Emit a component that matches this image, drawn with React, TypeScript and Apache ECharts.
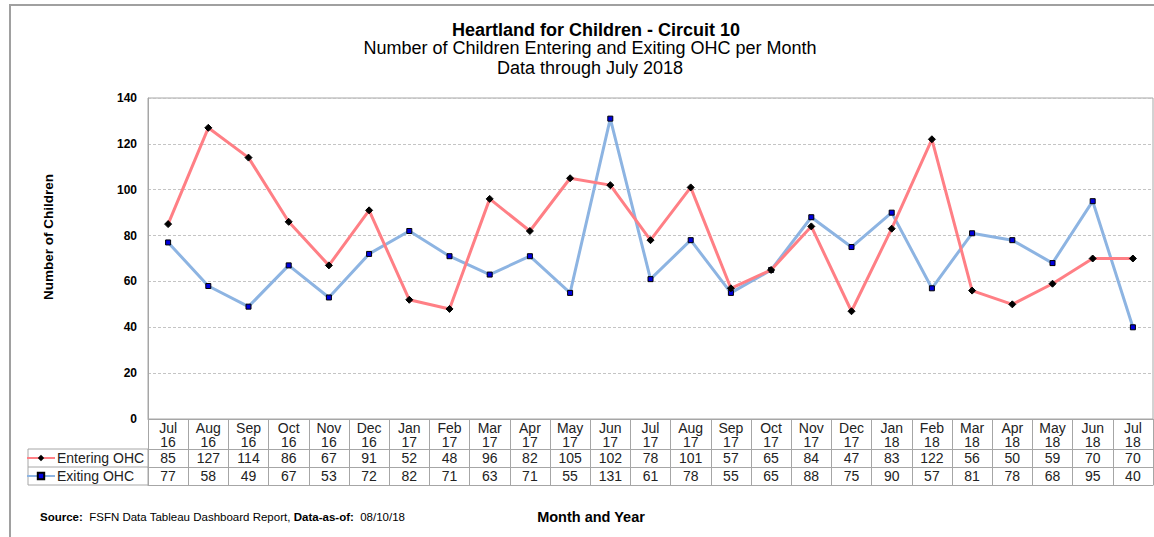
import React, { useEffect, useRef } from "react";
import * as echarts from "echarts";

const months = ["Jul\n16","Aug\n16","Sep\n16","Oct\n16","Nov\n16","Dec\n16","Jan\n17","Feb\n17","Mar\n17","Apr\n17","May\n17","Jun\n17","Jul\n17","Aug\n17","Sep\n17","Oct\n17","Nov\n17","Dec\n17","Jan\n18","Feb\n18","Mar\n18","Apr\n18","May\n18","Jun\n18","Jul\n18"];
const entering = [85,127,114,86,67,91,52,48,96,82,105,102,78,101,57,65,84,47,83,122,56,50,59,70,70];
const exiting = [77,58,49,67,53,72,82,71,63,71,55,131,61,78,55,65,88,75,90,57,81,78,68,95,40];
const yTicks = { min: 0, max: 140, interval: 20 };

const FONT = "Liberation Sans, Arial, sans-serif";
const BORDER = "#a6a6a6";

export default function App() {
  const ref = useRef<HTMLDivElement>(null);
  useEffect(() => {
    document.body.style.margin = "0";
    const chart = echarts.init(ref.current!, null, { renderer: "svg" });
    const tableAxis = (data: (string | number)[], offset: number, showLabel: boolean, tickLen: number) => ({
      type: "category",
      gridIndex: 0,
      position: "bottom",
      offset,
      data: data.map(String),
      boundaryGap: true,
      axisLine: { show: true, lineStyle: { color: BORDER, width: 1 } },
      axisTick: { show: tickLen > 0, interval: 0, length: tickLen, lineStyle: { color: BORDER } },
      axisLabel: { show: showLabel, interval: 0, margin: 0, fontFamily: FONT, fontSize: 14, color: "#222", lineHeight: 17 },
      splitLine: { show: false },
    });
    chart.setOption({
      animation: false,
      textStyle: { fontFamily: FONT },
      grid: { left: 148, right: 1, top: 98, bottom: 118, show: true, borderColor: BORDER, borderWidth: 1 },
      legend: {
        orient: "vertical",
        left: 26,
        top: 449,
        padding: 0,
        itemWidth: 28,
        itemHeight: 8,
        itemGap: 0,
        textStyle: { fontFamily: FONT, fontSize: 14, color: "#222", lineHeight: 18, padding: [0, 0, 0, -3] },
        data: ["Entering OHC", "Exiting OHC"],
      },
      xAxis: [
        {
          ...tableAxis(months, 0, true, 30),
          axisLabel: { interval: 0, margin: 2, fontFamily: FONT, fontSize: 14, color: "#222", lineHeight: 14 },
        },
        tableAxis(entering, 30, true, 18),
        tableAxis(exiting, 48, true, 18),
        tableAxis(months.map(() => ""), 66, false, 0),
      ],
      yAxis: {
        type: "value",
        min: yTicks.min,
        max: yTicks.max,
        interval: yTicks.interval,
        axisLine: { show: true, lineStyle: { color: BORDER } },
        axisTick: { show: false },
        axisLabel: { fontFamily: FONT, fontSize: 12, fontWeight: "bold", color: "#000", margin: 11 },
        splitLine: { show: true, lineStyle: { color: "#c4c4c4", type: [3, 2], width: 1 } },
      },
      series: [
        {
          name: "Entering OHC",
          type: "line",
          data: entering,
          xAxisIndex: 0,
          symbol: "diamond",
          symbolSize: 7,
          lineStyle: { color: "#ff7f85", width: 3 },
          itemStyle: { color: "#000", borderColor: "#000" },
          z: 3,
        },
        {
          name: "Exiting OHC",
          type: "line",
          data: exiting,
          xAxisIndex: 0,
          symbol: "rect",
          symbolSize: 5,
          lineStyle: { color: "#8db4e2", width: 3 },
          itemStyle: { color: "#0000dd", borderColor: "#000", borderWidth: 1 },
          z: 2,
        },
      ],
      graphic: [
        { type: "rect", shape: { x: 10, y: 5, width: 1200, height: 600 }, style: { fill: "none", stroke: "#a0a0a0", lineWidth: 2 }, silent: true },
        { type: "rect", shape: { x: 28, y: 449, width: 120, height: 36 }, style: { fill: "none", stroke: BORDER, lineWidth: 1 }, silent: true },
        { type: "line", shape: { x1: 28, y1: 467, x2: 148, y2: 467 }, style: { stroke: BORDER, lineWidth: 1 }, silent: true },
        { type: "text", x: 596, y: 30, style: { text: "Heartland for Children - Circuit 10", font: `bold 18px ${FONT}`, fill: "#000", textAlign: "center", textVerticalAlign: "middle" } },
        { type: "text", x: 590, y: 48, style: { text: "Number of Children Entering and Exiting OHC per Month", font: `18px ${FONT}`, fill: "#000", textAlign: "center", textVerticalAlign: "middle" } },
        { type: "text", x: 590, y: 68, style: { text: "Data through July 2018", font: `18px ${FONT}`, fill: "#000", textAlign: "center", textVerticalAlign: "middle" } },
        { type: "text", x: 48, y: 237, rotation: Math.PI / 2, style: { text: "Number of Children", font: `bold 13.5px ${FONT}`, fill: "#000", textAlign: "center", textVerticalAlign: "middle" } },
        {
          type: "text", x: 40, y: 517,
          style: {
            text: "{b|Source:}  FSFN Data Tableau Dashboard Report, {b|Data-as-of:}  08/10/18",
            font: `11.5px ${FONT}`, fill: "#000", textVerticalAlign: "middle",
            rich: { b: { fontWeight: "bold", fontSize: 11.5, fontFamily: FONT } },
          },
        },
        { type: "text", x: 591, y: 517, style: { text: "Month and Year", font: `bold 14.5px ${FONT}`, fill: "#000", textAlign: "center", textVerticalAlign: "middle" } },
      ],
    });
    return () => chart.dispose();
  }, []);
  return <div ref={ref} style={{ width: 1154, height: 537 }} />;
}
